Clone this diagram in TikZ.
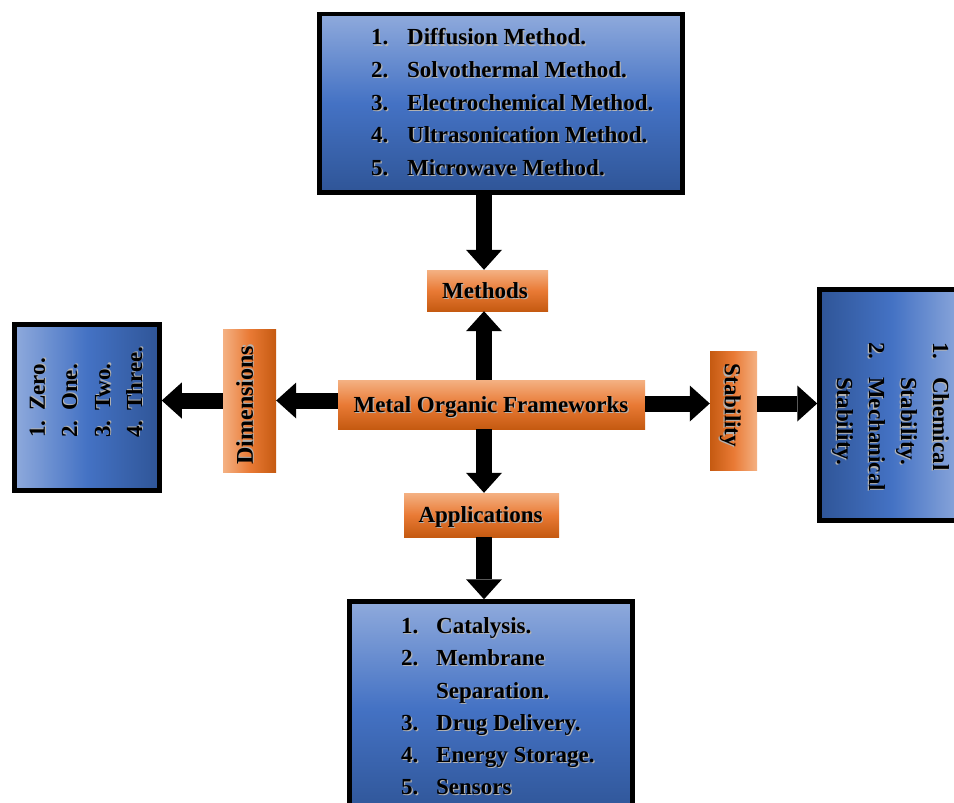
\documentclass[tikz,border=0pt]{standalone}
\usepackage{fontspec}
\setmainfont{Liberation Serif}
\usetikzlibrary{arrows.meta}
\definecolor{bluetop}{HTML}{8FAADC}
\definecolor{bluemid}{HTML}{4472C4}
\definecolor{bluebot}{HTML}{2F5597}
\definecolor{ortop}{HTML}{F4B183}
\definecolor{ormid}{HTML}{E97A35}
\definecolor{orbot}{HTML}{C55A11}
\newcommand\shd[1]{\makebox[0pt][l]{\textcolor{black!30}{\raisebox{-1.2pt}{\kern1.2pt#1}}}#1}
\newcommand\itm[3]{\makebox[#1][l]{\shd{#2}}\shd{#3}}
\begin{document}
\begin{tikzpicture}[x=1pt,y=-1pt,
  every node/.style={inner sep=0pt, font=\fontsize{23}{28}\selectfont\bfseries},
  bluev/.style={draw=black, line width=4.5pt, top color=bluetop, bottom color=bluebot, middle color=bluemid},
  bluehl/.style={draw=black, line width=4.5pt, left color=bluetop, right color=bluebot, middle color=bluemid},
  bluehr/.style={draw=black, line width=4.5pt, left color=bluebot, right color=bluetop, middle color=bluemid},
  orv/.style={top color=ortop, bottom color=orbot, middle color=ormid},
  orhl/.style={left color=ortop, right color=orbot, middle color=ormid},
  orhr/.style={left color=orbot, right color=ortop, middle color=ormid},
  lbl/.style={text height=15.5pt, text depth=0pt},
  item/.style={anchor=base west},
  bigarrow/.style={line width=16pt, -{Triangle[width=36pt,length=20pt,line width=0pt]}}
]
\useasboundingbox (0,0) rectangle (954,803);
\fill[white] (0,0) rectangle (954,803);
\clip (0,0) rectangle (954,803);

% blue boxes
\node[bluev, minimum width=363pt, minimum height=178.5pt] (topbox) at (501,103.25) {};
\node[bluehl, minimum width=145pt, minimum height=166pt] (leftbox) at (87,407.5) {};
\node[bluehr, minimum width=145pt, minimum height=231pt] (rightbox) at (892,405) {};
\node[bluev, minimum width=283pt, minimum height=213.5pt] (botbox) at (491,708.25) {};

% orange boxes
\node[orv, minimum width=121pt, minimum height=41pt] (methods) at (487.5,290.5) {};
\node[lbl] (methodst) at (485,290.5) {\shd{Methods}};
\node[orv, minimum width=307pt, minimum height=49pt] (mof) at (491.5,404.5) {};
\node[lbl] (moft) at (491,404.5) {\shd{Metal Organic Frameworks}};
\node[orv, minimum width=155pt, minimum height=44pt] (app) at (481.5,515) {};
\node[lbl] (appt) at (480.5,515) {\shd{Applications}};
\node[orhl, minimum width=53pt, minimum height=143pt] (dim) at (249.5,400.5) {};
\node[lbl, rotate=90, font=\fontsize{24}{28}\selectfont\bfseries] (dimt) at (245,405) {\shd{Dimensions}};
\node[orhr, minimum width=47pt, minimum height=119pt] (stab) at (733.5,410.5) {};
\node[lbl, rotate=-90] (stabt) at (732.5,405.5) {\shd{Stability}};

% top box items
\node[item] (t1) at (371,45) {\itm{36pt}{1.}{Diffusion Method.}};
\node[item] (t2) at (371,77.5) {\itm{36pt}{2.}{Solvothermal Method.}};
\node[item] (t3) at (371,110) {\itm{36pt}{3.}{Electrochemical Method.}};
\node[item] (t4) at (371,142.5) {\itm{36pt}{4.}{Ultrasonication Method.}};
\node[item] (t5) at (371,175) {\itm{36pt}{5.}{Microwave Method.}};

% bottom box items
\node[item] (b1) at (401,633) {\itm{35pt}{1.}{Catalysis.}};
\node[item] (b2) at (401,665) {\itm{35pt}{2.}{Membrane}};
\node[item] (b3) at (401,698) {\itm{35pt}{}{Separation.}};
\node[item] (b4) at (401,730) {\itm{35pt}{3.}{Drug Delivery.}};
\node[item] (b5) at (401,762) {\itm{35pt}{4.}{Energy Storage.}};
\node[item] (b6) at (401,794) {\itm{35pt}{5.}{Sensors}};

% left box items
\node[item, rotate=90] (l1) at (45,438) {\itm{27pt}{1.}{Zero.}};
\node[item, rotate=90] (l2) at (77,438) {\itm{27pt}{2.}{One.}};
\node[item, rotate=90] (l3) at (110,438) {\itm{27pt}{3.}{Two.}};
\node[item, rotate=90] (l4) at (142,438) {\itm{27pt}{4.}{Three.}};

% right box items
\node[item, rotate=-90] (r1) at (933,342) {\itm{35pt}{1.}{Chemical}};
\node[item, rotate=-90] (r2) at (901,342) {\itm{35pt}{}{Stability.}};
\node[item, rotate=-90] (r3) at (869,342) {\itm{35pt}{2.}{Mechanical}};
\node[item, rotate=-90] (r4) at (837,342) {\itm{35pt}{}{Stability.}};

% arrows
\coordinate (vx) at (484,0);
\coordinate (hr) at (0,403.5);
\draw[bigarrow] (topbox.south -| vx) -- (methods.north -| vx);
\draw[bigarrow] (mof.north -| vx) -- (methods.south -| vx);
\draw[bigarrow] (mof.south -| vx) -- (app.north -| vx);
\draw[bigarrow] (app.south -| vx) -- (botbox.north -| vx);
\draw[bigarrow] (mof.west |- dim) -- (dim.east);
\draw[bigarrow] (dim.west) -- (leftbox.east |- dim);
\draw[bigarrow] (mof.east |- hr) -- (stab.west |- hr);
\draw[bigarrow] (stab.east |- hr) -- (rightbox.west |- hr);
\end{tikzpicture}
\end{document}
